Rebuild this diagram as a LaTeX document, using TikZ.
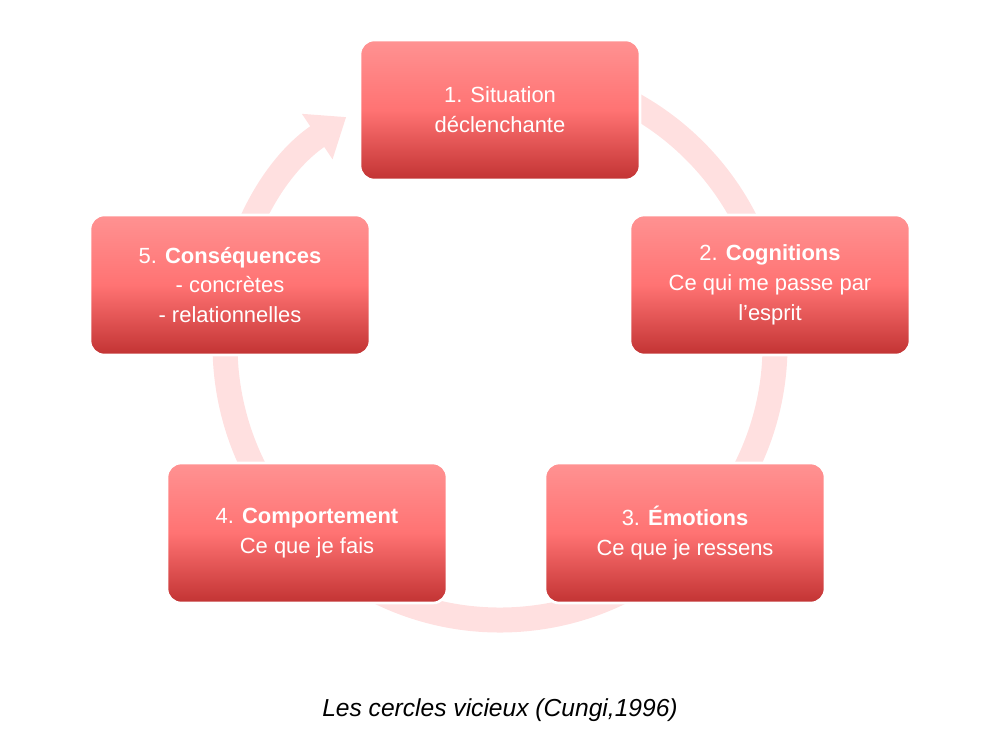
\documentclass[tikz,border=0pt]{standalone}
\usepackage{fontspec}
\setmainfont{Liberation Sans}
\usetikzlibrary{arrows.meta}
\tikzset{
  stepbox/.style={rounded corners=8pt, draw=white, line width=1.5pt,
    top color=red!30!pink!90, bottom color=red!70!black!80!white,
    middle color=red!55!white,
    minimum width=5.6cm, minimum height=2.8cm, align=center,
    text=white, font=\fontsize{12.5}{17}\selectfont},
  ring/.style={line width=0.5cm, color=red!12,
    -{Triangle[length=0.7cm, width=1.05cm]}}
}
\begin{document}
\begin{tikzpicture}[x=0.02cm, y=-0.02cm]
  \useasboundingbox (0,0) rectangle (1000,750);
  \coordinate (O) at (500,345);

  % Cycle ring
  \draw[ring] ([shift={(-95:275)}]O) arc[start angle=-95, end angle=236, radius=275];

  \node[stepbox] (sit) at (500,110) {1. Situation\\d\'eclenchante};
  \node[stepbox] (cog) at (770,285) {2. \textbf{Cognitions}\\Ce qui me passe par\\l'esprit};
  \node[stepbox] (emo) at (685,533) {3. \textbf{\'Emotions}\\Ce que je ressens};
  \node[stepbox] (comp) at (307,533) {4. \textbf{Comportement}\\Ce que je fais};
  \node[stepbox] (cons) at (230,285) {5. \textbf{Cons\'equences}\\- concr\`etes\\- relationnelles};

  \node[font=\itshape\fontsize{14}{16}\selectfont] (cap) at (500,710) {Les cercles vicieux (Cungi,1996)};
\end{tikzpicture}
\end{document}
